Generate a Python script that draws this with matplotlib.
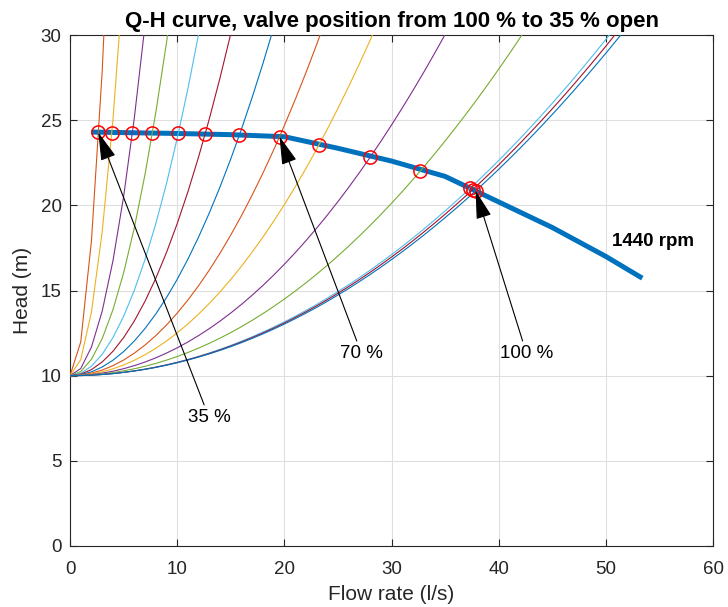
import numpy as np
import matplotlib
matplotlib.use("Agg")
import matplotlib.pyplot as plt

plt.rcParams['font.family'] = ['Liberation Sans', 'DejaVu Sans']

# pump characteristic at 1440 rpm
pump_flow = [2.2, 10, 15, 20, 25, 30, 35, 40, 45, 50, 53.2]
pump_head = [24.3, 24.22, 24.15, 24.03, 23.35, 22.6, 21.7, 20.2, 18.7, 17.0, 15.8]

# valve openings and the resulting operating points
valve_open = [35, 40, 45, 50, 55, 60, 65, 70, 75, 80, 85, 90, 95, 100]
op_flow = [2.64, 3.89, 5.81, 7.67, 10.1, 12.6, 15.8, 19.55, 23.2, 28.0, 32.66, 37.32, 37.58, 37.85]
op_head = [24.28, 24.27, 24.26, 24.25, 24.22, 24.19, 24.13, 24.04, 23.52, 22.82, 22.0, 21.0, 20.93, 20.85]

static_head = 10
flow_grid = np.arange(0, 61, 1.0)

matlab_colors = ['#0072BD', '#D95319', '#EDB120', '#7E2F8E', '#77AC30', '#4DBEEE', '#A2142F']

fig = plt.figure(figsize=(7.28, 6.07), dpi=100)
ax = fig.add_axes([0.0962, 0.1005, 0.8832, 0.8418])

ax.plot(pump_flow, pump_head, color=matlab_colors[0], lw=3.6, zorder=2)

# system curves H = H0 + k*Q^2, k set so each curve passes its operating point
for i, (q, h) in enumerate(zip(op_flow, op_head)):
    k = (h - static_head) / np.interp(q, flow_grid, flow_grid ** 2)
    ax.plot(flow_grid, static_head + k * flow_grid ** 2,
            color=matlab_colors[(i + 1) % 7], lw=0.8, zorder=3)

ax.plot(op_flow, op_head, 'o', mfc='none', mec='red', ms=9.5, mew=1.1, zorder=4)

arrow_kw = dict(arrowstyle='-|>,head_length=1.1,head_width=0.3', color='black',
                lw=0.8, mutation_scale=16, shrinkA=1, shrinkB=0)
labels = {0: ('35 %', (12.97, 7.55)), 7: ('70 %', (27.2, 11.3)), 13: ('100 %', (42.6, 11.3))}
for idx, (txt, pos) in labels.items():
    ax.annotate(txt, xy=(op_flow[idx], op_head[idx]), xytext=pos, fontsize=13.5,
                ha='center', va='center', arrowprops=arrow_kw, zorder=5)

ax.text(50.6, 17.85, '1440 rpm', fontsize=13.5, fontweight='bold', va='center')

ax.set_xlim(0, 60)
ax.set_ylim(0, 30)
ax.set_xticks(range(0, 61, 10))
ax.set_yticks(range(0, 31, 5))
ax.grid(True, color='#dfdfdf', lw=0.8)
ax.set_axisbelow(True)
ax.tick_params(direction='in', top=True, right=True, length=5, labelsize=13.5,
               colors='#262626')
ax.tick_params(axis='x', pad=11)
ax.tick_params(axis='y', pad=6)
for s in ax.spines.values():
    s.set_color('#262626')
    s.set_linewidth(0.8)

ax.set_xlabel('Flow rate (l/s)', fontsize=15, color='#262626', labelpad=5)
ax.set_ylabel('Head (m)', fontsize=15, color='#262626', labelpad=6)
ax.set_title('Q-H curve, valve position from 100 % to 35 % open', fontsize=16,
             fontweight='bold', pad=6)

fig.savefig('out.png', dpi=100)
